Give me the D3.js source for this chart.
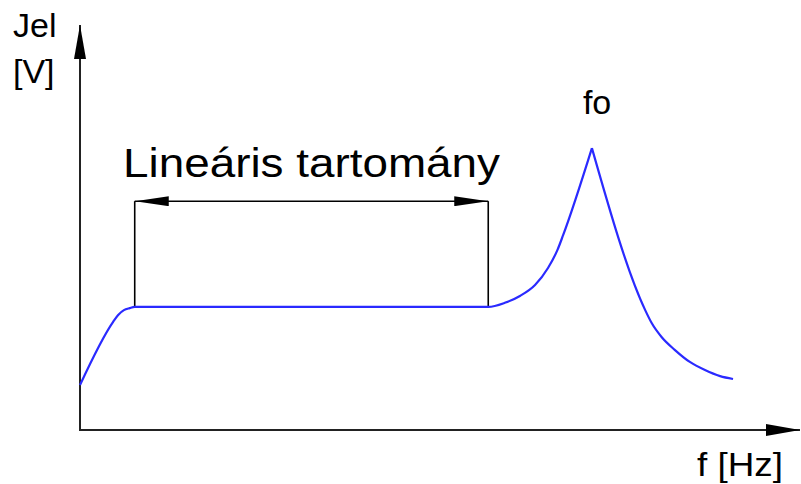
<!DOCTYPE html>
<html>
<head>
<meta charset="utf-8">
<script src="https://cdn.jsdelivr.net/npm/d3@7"></script>
<style>
  html, body { margin: 0; padding: 0; background: #fff; }
  text { font-family: "Liberation Sans", Arial, sans-serif; fill: #000; }
</style>
</head>
<body>
<div id="chart"></div>
<script>
// Response curve (schematic): frequency vs signal
const freq = [0, 4.6, 5.3, 6.1, 6.9, 7.6, 56.7, 59.0, 61.1, 63.2, 65.0, 66.3, 67.1, 71.1, 78.5, 79.4, 80.8, 82.6, 84.7, 86.8, 88.9, 90.7];
const signal = [11.1, 26.7, 28.4, 29.6, 30.1, 30.4, 30.4, 31.4, 33.1, 35.8, 40.0, 44.4, 48.1, 69.6, 29.6, 26.4, 22.9, 19.8, 16.8, 14.8, 13.3, 12.6];

// Linear range marker and labels
const linearRange = [7.6, 56.7];
const rangeLevel = 56.5;
const flatLevel = 30.4;
const resonance = 71.1;

const width = 801;
const height = 484;

const svg = d3.select("#chart")
    .append("svg")
    .attr("width", width)
    .attr("height", height);

const x = d3.scaleLinear().domain([0, 100]).range([80, 800]);
const y = d3.scaleLinear().domain([0, 100]).range([430, 25]);

// arrowheads
const defs = svg.append("defs");
defs.append("marker")
    .attr("id", "axisArrow")
    .attr("viewBox", "0 0 34 12")
    .attr("refX", 34).attr("refY", 6)
    .attr("markerWidth", 34).attr("markerHeight", 12)
    .attr("markerUnits", "userSpaceOnUse")
    .attr("orient", "auto")
    .append("path")
    .attr("d", "M0,0 L34,6 L0,12 Z")
    .attr("fill", "#000");

defs.append("marker")
    .attr("id", "dimArrow")
    .attr("viewBox", "0 0 34 10")
    .attr("refX", 34).attr("refY", 5)
    .attr("markerWidth", 34).attr("markerHeight", 10)
    .attr("markerUnits", "userSpaceOnUse")
    .attr("orient", "auto-start-reverse")
    .append("path")
    .attr("d", "M0,0 L34,5 L0,10 Z")
    .attr("fill", "#000");

// axes
svg.append("line")
    .attr("x1", x(0)).attr("y1", y(0))
    .attr("x2", x(0)).attr("y2", y(100))
    .attr("stroke", "#222").attr("stroke-width", 2)
    .attr("marker-end", "url(#axisArrow)");

svg.append("line")
    .attr("x1", x(0) - 1).attr("y1", y(0))
    .attr("x2", x(100)).attr("y2", y(0))
    .attr("stroke", "#222").attr("stroke-width", 2)
    .attr("marker-end", "url(#axisArrow)");

// dimension lines for the linear range
linearRange.forEach(f => {
    svg.append("line")
        .attr("x1", x(f)).attr("y1", y(flatLevel))
        .attr("x2", x(f)).attr("y2", y(rangeLevel))
        .attr("stroke", "#000").attr("stroke-width", 1.6);
});

svg.append("line")
    .attr("x1", x(linearRange[0])).attr("y1", y(rangeLevel))
    .attr("x2", x(linearRange[1])).attr("y2", y(rangeLevel))
    .attr("stroke", "#000").attr("stroke-width", 1.6)
    .attr("marker-start", "url(#dimArrow)")
    .attr("marker-end", "url(#dimArrow)");

// the curve: smooth on both sides, sharp at the resonance peak
const points = d3.zip(freq, signal);
const peakIdx = freq.indexOf(resonance);

const line = d3.line()
    .x(d => x(d[0]))
    .y(d => y(d[1]))
    .curve(d3.curveMonotoneX);

[points.slice(0, peakIdx + 1), points.slice(peakIdx)].forEach(seg => {
    svg.append("path")
        .datum(seg)
        .attr("d", line)
        .attr("fill", "none")
        .attr("stroke", "#2a2aff")
        .attr("stroke-width", 2.2)
        .attr("stroke-linejoin", "round");
});

// labels
svg.append("text")
    .attr("x", 123).attr("y", 177)
    .attr("font-size", 40)
    .attr("textLength", 377)
    .attr("lengthAdjust", "spacingAndGlyphs")
    .text("Lineáris tartomány");

svg.append("text")
    .attr("x", x(resonance) - 9).attr("y", 114)
    .attr("font-size", 34)
    .text("fo");

svg.append("text")
    .attr("x", 13).attr("y", 37)
    .attr("font-size", 34)
    .text("Jel");

svg.append("text")
    .attr("x", 13).attr("y", 83)
    .attr("font-size", 34)
    .text("[V]");

svg.append("text")
    .attr("x", 697).attr("y", 476)
    .attr("font-size", 34)
    .attr("textLength", 86)
    .attr("lengthAdjust", "spacingAndGlyphs")
    .text("f [Hz]");
</script>
</body>
</html>
